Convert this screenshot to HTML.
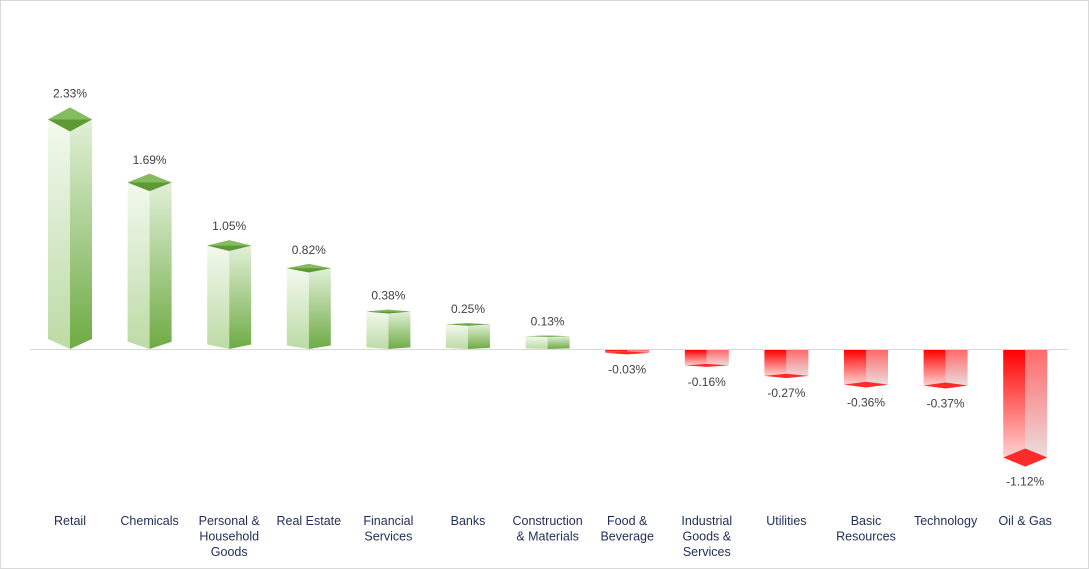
<!DOCTYPE html>
<html><head><meta charset="utf-8"><style>
html,body{margin:0;padding:0;background:#fff;}
svg{display:block;font-family:"Liberation Sans",Arial,sans-serif;}
</style></head><body>
<svg id="c" width="1089" height="569" xmlns="http://www.w3.org/2000/svg">
<defs>
<linearGradient id="gl" x1="0" y1="0" x2="0" y2="1"><stop offset="0" stop-color="#f3f9ee"/><stop offset="1" stop-color="#bcdba5"/></linearGradient>
<linearGradient id="gr" x1="0" y1="0" x2="0" y2="1"><stop offset="0" stop-color="#e2f0d8"/><stop offset="1" stop-color="#6eab44"/></linearGradient>
<linearGradient id="rl" x1="0" y1="0" x2="0" y2="1"><stop offset="0" stop-color="#ff0000"/><stop offset="1" stop-color="#ffe4e4"/></linearGradient>
<linearGradient id="rr" x1="0" y1="0" x2="0" y2="1"><stop offset="0" stop-color="#ff6a6a"/><stop offset="1" stop-color="#e9e6e6"/></linearGradient>
</defs>
<rect x="0.5" y="0.5" width="1088" height="568" fill="#fff" stroke="#d9d9d9"/>
<line x1="30" y1="349.5" x2="1068" y2="349.5" stroke="#d9d9d9" stroke-width="1"/>
<g id="bars"></g>
</svg>
<script>
var d=[["Retail",2.33],["Chemicals",1.69],["Personal &|Household|Goods",1.05],["Real Estate",0.82],["Financial|Services",0.38],["Banks",0.25],["Construction|& Materials",0.13],["Food &|Beverage",-0.03],["Industrial|Goods &|Services",-0.16],["Utilities",-0.27],["Basic|Resources",-0.36],["Technology",-0.37],["Oil & Gas",-1.12]];
var g=document.getElementById("bars"),h="";
function P(p,f){return '<polygon points="'+p.map(function(a){return a.map(function(x){return x.toFixed(1)}).join(",")}).join(" ")+'" fill="'+f+'"/>';}
d.forEach(function(e,i){
 var c=70+i*79.6,v=e[1],w=22;
 if(v>0){
  var dist=v*98.5,ys=349-dist,hh=12*dist/229,bh=10*dist/229;
  h+=P([[c-w,ys],[c,ys+hh],[c,349],[c-w,349-bh]],"url(#gl)");
  h+=P([[c,ys+hh],[c+w,ys],[c+w,349-bh],[c,349]],"url(#gr)");
  h+=P([[c-w,ys],[c,ys-hh],[c+w,ys],[c,ys+hh]],"#5d9a36");
  h+=P([[c-w,ys],[c,ys-hh],[c+w,ys]],"#84bc5f");
  h+='<text x="'+c+'" y="'+(ys-hh-10)+'" text-anchor="middle" font-size="12" fill="#404040">'+v.toFixed(2)+'%</text>';
 }else{
  var dist=(-v)*96,yb=350+dist,hh=Math.max(1.5,9*dist/107);
  h+=P([[c-w,350],[c,350],[c,yb+hh],[c-w,yb]],"url(#rl)");
  h+=P([[c,350],[c+w,350],[c+w,yb],[c,yb+hh]],"url(#rr)");
  h+=P([[c-w,yb],[c,yb-hh],[c+w,yb],[c,yb+hh]],"#ff2a2a");
  h+='<text x="'+c+'" y="'+(yb+hh+19)+'" text-anchor="middle" font-size="12" fill="#404040">'+v.toFixed(2)+'%</text>';
 }
 var L=e[0].split("|");
 L.forEach(function(t,j){
  h+='<text x="'+c+'" y="'+(525+j*15.5)+'" text-anchor="middle" font-size="12.5" fill="#1f2d5a">'+t.replace(/&/g,"&amp;")+'</text>';
 });
});
g.innerHTML=h;
</script>
</body></html>
